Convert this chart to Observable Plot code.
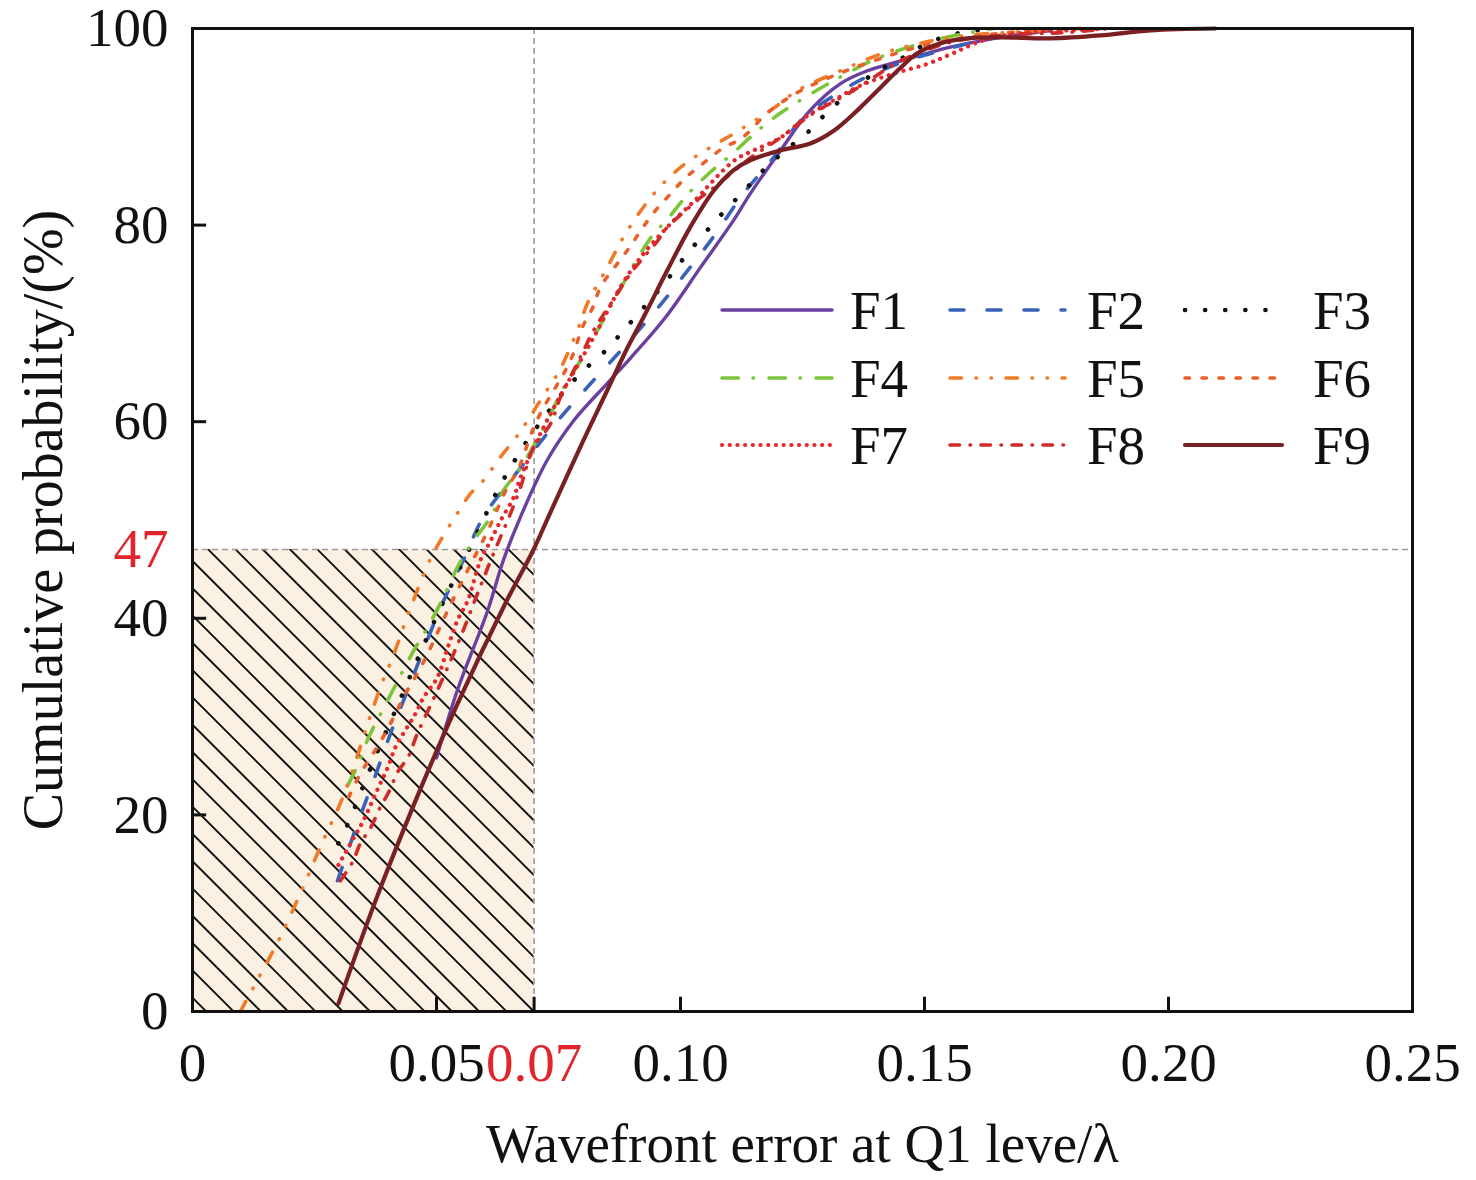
<!DOCTYPE html>
<html>
<head>
<meta charset="utf-8">
<script src="https://cdn.jsdelivr.net/npm/d3@7"></script>
<script src="https://cdn.jsdelivr.net/npm/@observablehq/plot@0.6"></script>
<style>
  html, body { margin: 0; padding: 0; background: #fff; }
  #chart { width: 1476px; height: 1180px; }
</style>
</head>
<body>
<div id="chart"></div>
<script>
// ---------- data ----------
const seriesNames = ["F1", "F2", "F3", "F4", "F5", "F6", "F7", "F8", "F9"];
const seriesColors = ["#6a3fa0", "#3a62b8", "#111111", "#7cc43a", "#f07a28", "#e8602a", "#e8282e", "#d02a2a", "#7a1f22"];

const F1x = [0.0500,0.0543,0.0605,0.0637,0.0672,0.0727,0.0781,0.0850,0.0898,0.0969,0.1041,0.1109,0.1143,0.1205,0.1266,0.1328,0.1383,0.1451,0.1553,0.1656,0.1758];
const F1y = [25.8,32.7,40.8,45.9,50.3,56.1,60.1,63.9,66.5,70.6,75.7,80.5,83.2,87.6,91.7,94.4,95.7,96.7,98.1,99.1,99.8];

const F2x = [0.0297,0.0338,0.0371,0.0406,0.0441,0.0512,0.0555,0.0596,0.0672,0.0740,0.0809,0.0877,0.0949,0.1004,0.1066,0.1129,0.1191,0.1246,0.1348,0.1451,0.1553,0.1656,0.1738];
const F2y = [13.3,19.1,23.5,28.3,32.7,41.5,45.9,50.3,55.3,59.6,63.5,67.2,71.3,74.7,78.7,83.2,86.9,90.6,94.2,96.5,98.0,99.2,99.8];

const F3x = [0.0299,0.0324,0.0348,0.0371,0.0420,0.0467,0.0518,0.0574,0.0625,0.0656,0.0689,0.0723,0.0760,0.0801,0.0846,0.0887,0.0928,0.0969,0.1006,0.1045,0.1086,0.1127,0.1170,0.1215,0.1262,0.1303,0.1348,0.1395,0.1451,0.1506,0.1559,0.1635];
const F3y = [17.1,19.7,22.7,25.5,31.1,36.5,42.1,47.7,53.0,55.7,58.3,60.6,63.0,65.2,67.2,69.5,71.8,74.2,76.6,78.9,81.2,83.3,85.6,87.6,89.5,91.6,93.5,95.4,96.9,98.5,99.4,100];

const F4x = [0.0318,0.0338,0.0361,0.0391,0.0416,0.0451,0.0482,0.0514,0.0543,0.0576,0.0611,0.0637,0.0672,0.0727,0.0758,0.0795,0.0830,0.0863,0.0939,0.0975,0.1016,0.1057,0.1107,0.1158,0.1205,0.1307,0.1410,0.1518,0.1641];
const F4y = [23.0,25.0,27.9,30.8,33.2,36.5,39.1,42.1,45.2,47.9,50.3,53.0,55.3,60.1,63.2,66.2,69.3,72.3,78.7,80.7,83.2,85.2,87.3,89.6,91.4,94.5,97.1,98.8,100];

const F5x = [0.0098,0.0133,0.0176,0.0221,0.0266,0.0303,0.0328,0.0359,0.0389,0.0410,0.0447,0.0488,0.0508,0.0543,0.0570,0.0596,0.0631,0.0666,0.0689,0.0717,0.0754,0.0791,0.0809,0.0850,0.0887,0.0939,0.0980,0.1014,0.1061,0.1109,0.1191,0.1240,0.1328,0.1416,0.1492,0.1588,0.1758,0.1881];
const F5y = [0,3.2,7.2,12.0,17.2,21.2,24.5,29.3,33.5,36.0,41.1,46.1,47.9,50.7,52.7,54.0,56.4,58.6,60.3,62.5,65.4,69.6,72.0,75.7,79.1,82.8,85.0,86.4,87.9,89.3,91.9,93.7,95.7,97.5,98.5,99.3,99.8,100];

const F6x = [0.0320,0.0344,0.0371,0.0395,0.0416,0.0436,0.0461,0.0482,0.0523,0.0564,0.0605,0.0645,0.0666,0.0699,0.0719,0.0744,0.0764,0.0781,0.0799,0.0822,0.0836,0.0871,0.0898,0.0922,0.0949,0.0980,0.1010,0.1047,0.1086,0.1127,0.1178,0.1240,0.1314,0.1395,0.1486,0.1588,0.1723,0.1826];
const F6y = [21.8,24.2,26.3,28.3,30.3,32.3,34.4,36.4,40.8,44.9,48.9,53.3,55.0,59.4,61.4,63.5,65.2,67.0,69.6,71.8,73.7,76.1,77.9,79.7,81.5,83.2,84.8,86.3,87.8,88.9,91.4,93.5,95.2,96.7,98.1,99.1,99.8,100];

const F7x = [0.0299,0.0324,0.0350,0.0381,0.0400,0.0416,0.0436,0.0457,0.0473,0.0502,0.0523,0.0543,0.0564,0.0590,0.0611,0.0631,0.0658,0.0672,0.0713,0.0760,0.0795,0.0830,0.0877,0.0918,0.0973,0.1035,0.1061,0.1088,0.1117,0.1150,0.1205,0.1260,0.1314,0.1369,0.1436,0.1506,0.1559,0.1621,0.1691,0.1793,0.1881];
const F7y = [14.9,17.1,19.4,22.8,24.8,26.9,28.6,30.3,31.9,34.0,37.0,39.8,41.8,45.9,47.9,49.9,52.3,54.3,58.8,63.2,66.2,69.3,73.7,76.7,79.8,82.8,84.2,85.6,86.8,87.6,88.9,91.1,92.7,94.2,95.4,96.4,97.5,98.8,99.5,99.8,100];

const F8x = [0.0303,0.0328,0.0344,0.0365,0.0385,0.0402,0.0422,0.0441,0.0461,0.0492,0.0529,0.0555,0.0584,0.0617,0.0652,0.0672,0.0699,0.0734,0.0754,0.0781,0.0801,0.0822,0.0857,0.0898,0.0924,0.0953,0.0973,0.1004,0.1041,0.1068,0.1137,0.1205,0.1273,0.1348,0.1395,0.1451,0.1553,0.1656,0.1793,0.1861];
const F8y = [13.3,15.2,17.1,18.7,20.8,22.3,24.5,25.8,28.3,31.6,35.7,38.8,42.5,46.6,50.7,53.3,57.4,59.8,62.5,65.2,67.2,69.3,72.0,75.1,76.7,78.4,79.8,81.2,82.8,83.8,86.6,88.9,91.4,93.5,95.0,96.7,98.6,99.3,99.6,99.9];

const F9x = [0.0299,0.0373,0.0455,0.0543,0.0641,0.0699,0.0730,0.0801,0.0850,0.0891,0.0924,0.0973,0.1020,0.1068,0.1109,0.1143,0.1205,0.1266,0.1314,0.1363,0.1410,0.1451,0.1486,0.1533,0.1588,0.1656,0.1758,0.1861,0.1963,0.2096];
const F9y = [0.8,11.0,21.2,31.3,41.5,47.0,50.4,58.1,63.2,67.5,70.6,75.4,79.8,83.5,85.6,86.6,87.6,88.3,89.6,91.7,94.0,96.0,97.5,98.5,99.0,99.1,99.0,99.3,99.8,100];

const xTicks = [0, 0.05, 0.10, 0.15, 0.20, 0.25];
const xTickLabels = ["0", "0.05", "0.10", "0.15", "0.20", "0.25"];
const yTicks = [0, 20, 40, 60, 80, 100];
const yTickLabels = ["0", "20", "40", "60", "80", "100"];
const markX = 0.07, markXLabel = "0.07";
const markY = 47, markYLabel = "47";
const xTitle = "Wavefront error at Q1 leve/λ";
const yTitle = "Cumulative probability/(%)";

// ---------- styles ----------
const dashes = [null, "14,23", "0.1,20", "16.5,14.5,0.5,15.5", "11.5,14.5,0.5,14.5,0.5,14.5", "4.5,12.5", "0.1,7.6", "9.5,10.5,0.5,10.5", null];
const widths = [3.4, 3.6, 4.6, 3.6, 3.6, 3.6, 4.2, 3.6, 4.2];
const xs = [F1x, F2x, F3x, F4x, F5x, F6x, F7x, F8x, F9x];
const ys = [F1y, F2y, F3y, F4y, F5y, F6y, F7y, F8y, F9y];
const series = seriesNames.map((name, i) => xs[i].map((x, j) => ({name, x, y: ys[i][j]})));

const RED = "#e0262c";
const FS = 55;

const lineMarks = series.map((data, i) => Plot.line(data, {
  x: "x", y: "y", stroke: seriesColors[i], strokeWidth: widths[i],
  strokeDasharray: dashes[i] || undefined, strokeLinecap: "round", strokeLinejoin: "round",
  curve: "catmull-rom"
}));

const svg = Plot.plot({
  width: 1476, height: 1180,
  marginLeft: 192, marginRight: 64, marginTop: 28, marginBottom: 169,
  x: {domain: [0, 0.25], axis: null},
  y: {domain: [0, 100], axis: null},
  style: {fontFamily: "'Liberation Serif', 'DejaVu Serif', serif", fontSize: FS + "px", color: "#111", background: "#fff", overflow: "visible"},
  marks: [
    Plot.rect([{}], {x1: 0, x2: markX, y1: 0, y2: markY, fill: "#faf1e2"}),
    Plot.rect([{}], {x1: 0, x2: markX, y1: 0, y2: markY, fill: "url(#hatch)"}),
    Plot.ruleX([markX], {x: d => d, stroke: "#9a9a9a", strokeWidth: 1.6, strokeDasharray: "6,4"}),
    Plot.ruleY([markY], {y: d => d, stroke: "#9a9a9a", strokeWidth: 1.6, strokeDasharray: "6,4"}),
    ...lineMarks,
    // inward ticks
    Plot.ruleX([...xTicks.slice(1, -1), markX], {x: d => d, y1: 0, y2: 1.45, stroke: "#111", strokeWidth: 3}),
    Plot.ruleY(yTicks.slice(1, -1), {y: d => d, x1: 0, x2: 0.0029, stroke: "#111", strokeWidth: 3}),
    Plot.frame({stroke: "#111", strokeWidth: 3}),
    // tick labels
    Plot.text(xTicks, {x: d => d, frameAnchor: "bottom", dy: 52, text: (d, i) => xTickLabels[i], fill: "#111", fontSize: FS, lineAnchor: "middle"}),
    Plot.text([markX], {x: d => d, frameAnchor: "bottom", dy: 52, text: [markXLabel], fill: RED, fontSize: FS, lineAnchor: "middle"}),
    Plot.text(yTicks, {y: d => d, frameAnchor: "left", dx: -24, text: (d, i) => yTickLabels[i], textAnchor: "end", fill: "#111", fontSize: FS, lineAnchor: "middle"}),
    Plot.text([markY], {y: d => d, frameAnchor: "left", dx: -24, text: [markYLabel], textAnchor: "end", fill: RED, fontSize: FS, lineAnchor: "middle"}),
    // axis titles
    Plot.text([xTitle], {frameAnchor: "bottom", dy: 133, text: d => d, fill: "#111", fontSize: 55, lineAnchor: "middle", textAnchor: "middle"}),
    Plot.text([yTitle], {frameAnchor: "left", dx: -148, text: d => d, rotate: -90, fill: "#111", fontSize: 56, lineAnchor: "middle", textAnchor: "middle"})
  ]
});

// hatch pattern (diagonal lines, ~27 px apart along both edges)
const ns = "http://www.w3.org/2000/svg";
const defs = document.createElementNS(ns, "defs");
defs.innerHTML = '<pattern id="hatch" patternUnits="userSpaceOnUse" width="20" height="19.3" patternTransform="rotate(45)">' +
  '<line x1="-2" y1="9.65" x2="22" y2="9.65" stroke="#111" stroke-width="1.9"/></pattern>';
svg.insertBefore(defs, svg.firstChild);

// legend (inside plot, three columns x three rows)
const legendCols = [[722, 832, 850], [950, 1065, 1087], [1185, 1282, 1313]];
const legendRows = [310, 378, 445];
const lg = d3.select(svg).append("g").attr("class", "legend").attr("text-anchor", "start");
seriesNames.forEach((name, i) => {
  const c = legendCols[i % 3], r = legendRows[Math.floor(i / 3)];
  lg.append("line")
    .attr("x1", c[0]).attr("x2", c[1]).attr("y1", r).attr("y2", r)
    .attr("stroke", seriesColors[i]).attr("stroke-width", widths[i])
    .attr("stroke-linecap", "round")
    .attr("stroke-dasharray", dashes[i] || null);
  lg.append("text")
    .attr("x", c[2]).attr("y", r).attr("dy", "0.35em")
    .attr("text-anchor", "start")
    .attr("font-size", FS).attr("fill", "#111")
    .attr("font-family", "'Liberation Serif', serif")
    .text(name);
});

document.getElementById("chart").appendChild(svg);
</script>
</body>
</html>
